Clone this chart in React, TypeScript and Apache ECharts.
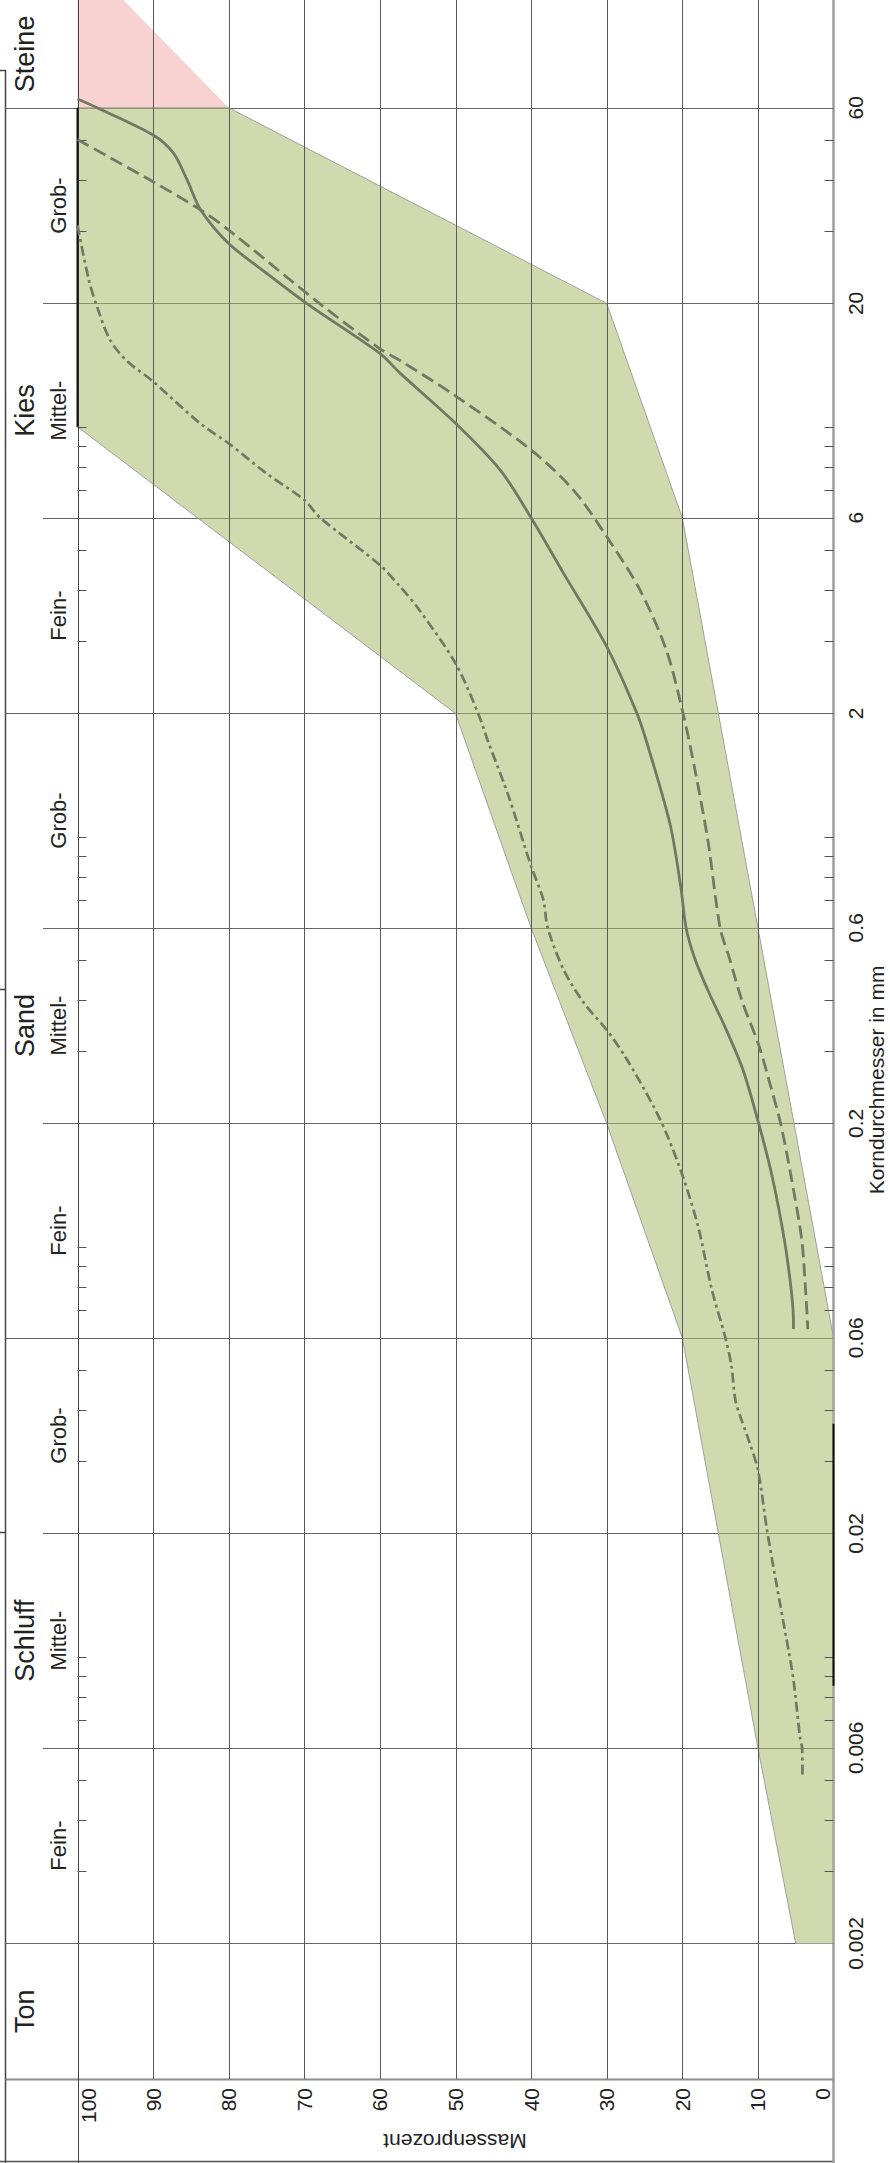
import { useEffect, useRef } from "react";
import * as echarts from "echarts";

const FONT = "'Liberation Sans', Arial, Helvetica, sans-serif";
const PAGE_W = 890;
const PAGE_H = 2163;

// ---- axis extent (Korndurchmesser in mm, logarithmic) ----
const D_MIN = 0.000934;
const D_MAX = 109.9;

// ---- ticks ----
const percentTicks = [0, 10, 20, 30, 40, 50, 60, 70, 80, 90, 100];
const diameterTickLabels = [0.002, 0.006, 0.02, 0.06, 0.2, 0.6, 2, 6, 20, 60];
const diameterMinorTicks = [
  0.003, 0.004, 0.005, 0.007, 0.008, 0.009, 0.01, 0.03, 0.04, 0.05, 0.07, 0.08, 0.09, 0.1,
  0.3, 0.4, 0.5, 0.7, 0.8, 0.9, 1, 3, 4, 5, 7, 8, 9, 10, 30, 40, 50,
];
const mainBoundaries = [0.002, 0.06, 2, 60];
const subBoundaries = [0.006, 0.02, 0.2, 0.6, 6, 20];

// ---- soil classes ----
const soilNames = ["Ton", "Schluff", "Sand", "Kies", "Steine"];
const soilFrom = [D_MIN, 0.002, 0.06, 2, 60];
const soilTo = [0.002, 0.06, 2, 60, D_MAX];

const fractionNames = ["Fein-", "Mittel-", "Grob-", "Fein-", "Mittel-", "Grob-", "Fein-", "Mittel-", "Grob-"];
const fractionFrom = [0.002, 0.006, 0.02, 0.06, 0.2, 0.6, 2, 6, 20];
const fractionTo = [0.006, 0.02, 0.06, 0.2, 0.6, 2, 6, 20, 60];

// ---- grading envelope ----
const upperD = [0.002, 0.006, 0.06, 0.2, 0.6, 2, 10, 60];
const upperP = [5, 10, 20, 30, 40, 50, 100, 100];
const lowerD = [0.002, 0.06, 0.6, 6, 20, 60];
const lowerP = [0, 0, 10, 20, 30, 80];
const stonesD = [60, 60, 143];
const stonesP = [100, 80, 100];
const edgeBarP1 = [100, 0];
const edgeBarD1 = [10, 0.0085];
const edgeBarP2 = [100, 0];
const edgeBarD2 = [60, 0.037];

// ---- grading curves ----
const solidD = [63, 60, 51.5, 46.5, 40, 33.8, 28, 23.7, 20, 15.1, 13.5, 10.2, 7.85, 6, 4.39, 2.91, 2, 1.63, 1.07, 0.755, 0.6, 0.508, 0.422, 0.342, 0.271, 0.2, 0.148, 0.104, 0.0787, 0.066, 0.063];
const solidP = [100, 97.4, 90, 87.3, 85.5, 83.7, 80, 75, 69.7, 60, 57.3, 50, 44.1, 40, 35.7, 30, 26, 24.4, 21.6, 20.2, 19.5, 18.4, 16.6, 14.3, 12, 9.9, 8.1, 6.5, 5.6, 5.3, 5.3];

const dashD = [50.2, 39.6, 33.8, 30.2, 20, 15.5, 14.5, 12, 8.78, 7.01, 5.4, 4.0, 2.85, 2.0, 1.48, 0.976, 0.6, 0.508, 0.393, 0.311, 0.246, 0.2, 0.148, 0.104, 0.0787, 0.066, 0.063];
const dashP = [100, 90, 83.7, 80, 68, 60, 57.3, 50.3, 40, 34.4, 30, 25.6, 22.1, 19.9, 18.4, 16.6, 15, 13.8, 12, 9.9, 8.3, 7, 5.6, 4.2, 3.7, 3.45, 3.4];

const dotDashD = [31, 22.8, 19.6, 16.3, 14.5, 12.9, 10.2, 9.11, 7.7, 6.63, 6, 4.6, 4.07, 3.64, 2.65, 2.0, 1.71, 1.26, 0.848, 0.704, 0.6, 0.474, 0.393, 0.338, 0.29, 0.22, 0.187, 0.148, 0.112, 0.0787, 0.06, 0.0512, 0.0425, 0.0387, 0.0339, 0.0286, 0.0204, 0.0149, 0.011, 0.0088, 0.0063, 0.006, 0.0051];
const dotDashP = [100, 98.5, 97.4, 95.7, 93.5, 90, 83.8, 80, 75, 70, 67.9, 60, 57.3, 55.1, 50, 47, 45.7, 43, 40, 38.4, 37.8, 35.7, 33, 30, 27.5, 23.8, 22, 19.9, 17.9, 16.1, 14.3, 13.5, 13, 12.35, 11.25, 10, 8.8, 7.5, 6.2, 5.3, 4.4, 4.15, 4.1];

// ---- styling constants ----
const FRAME_X = 5.5;
const SUB_X = 43;
const BIG_LABEL_X = 25;
const SMALL_LABEL_X = 58;
const CURVE_COLOR = "#747862";
const AXIS_GRAY = "#9c9c9c";
const TEXT = "#222";

export default function App() {
  const ref = useRef<HTMLDivElement>(null);

  useEffect(() => {
    if (!ref.current) return;
    const chart = echarts.init(ref.current, undefined, { renderer: "svg" });

    const hlineData = [
      ...mainBoundaries.map((d) => [0, d, 0]),
      ...subBoundaries.map((d) => [0, d, 1]),
      [0, D_MIN, 2],
    ];

    const option: any = {
      animation: false,
      backgroundColor: "#fff",
      grid: { left: 77.5, right: 56.5, top: 0, bottom: 84, containLabel: false, outerBoundsMode: "none" },
      xAxis: {
        type: "value",
        min: 0,
        max: 100,
        interval: 10,
        inverse: true,
        position: "bottom",
        axisLine: { show: false },
        axisTick: { show: false },
        splitLine: { show: false },
        axisLabel: {
          rotate: 90,
          margin: 9,
          fontSize: 21,
          fontFamily: FONT,
          color: TEXT,
          formatter: (v: number) => (v === 100 ? "{hi|100}" : v === 0 ? "{lo|0}" : String(v)),
          rich: {
            hi: { fontSize: 21, fontFamily: FONT, color: TEXT, padding: [22, 0, 0, 0] },
            lo: { fontSize: 21, fontFamily: FONT, color: TEXT, padding: [0, 0, 22, 0] },
          },
        },
      },
      yAxis: {
        type: "log",
        logBase: 10,
        min: D_MIN,
        max: D_MAX,
        position: "right",
        axisLine: { show: true, lineStyle: { color: AXIS_GRAY, width: 2.5 } },
        axisTick: { show: false },
        splitLine: { show: false },
        minorSplitLine: { show: false },
        axisLabel: {
          customValues: diameterTickLabels,
          rotate: 90,
          margin: 11,
          fontSize: 21,
          fontFamily: FONT,
          color: TEXT,
          formatter: (v: number) => String(parseFloat(Number(v).toPrecision(3))),
        },
      },
      graphic: [
        {
          type: "text",
          x: 876,
          y: 1080,
          rotation: Math.PI / 2,
          style: {
            text: "Korndurchmesser in mm",
            fontSize: 21,
            fontFamily: FONT,
            fill: TEXT,
            align: "center",
            verticalAlign: "middle",
          },
        },
        {
          type: "text",
          x: 455,
          y: 2141,
          rotation: Math.PI,
          style: {
            text: "Massenprozent",
            fontSize: 21,
            fontFamily: FONT,
            fill: TEXT,
            align: "center",
            verticalAlign: "middle",
          },
        },
        { type: "line", shape: { x1: FRAME_X, y1: 70, x2: FRAME_X, y2: PAGE_H }, style: { stroke: "#444", lineWidth: 1.5 } },
        { type: "line", shape: { x1: 0, y1: 70.5, x2: FRAME_X, y2: 70.5 }, style: { stroke: "#444", lineWidth: 1.5 } },
        { type: "line", shape: { x1: 0, y1: 989.5, x2: FRAME_X, y2: 989.5 }, style: { stroke: "#444", lineWidth: 1.5 } },
        { type: "line", shape: { x1: 0, y1: 1532.5, x2: FRAME_X, y2: 1532.5 }, style: { stroke: "#444", lineWidth: 1.5 } },
        { type: "line", shape: { x1: 0, y1: 2161.5, x2: 834, y2: 2161.5 }, style: { stroke: "#555", lineWidth: 1.5 } },
      ],
      series: [
        // horizontal class boundaries (drawn beneath the envelope)
        {
          type: "custom",
          coordinateSystem: "cartesian2d",
          silent: true,
          clip: false,
          z: 1,
          encode: { x: 0, y: 1 },
          data: hlineData,
          renderItem: (params: any, api: any) => {
            const d = api.value(1);
            const kind = api.value(2);
            const cs = params.coordSys;
            const y = Math.round(api.coord([0, d])[1]) + 0.5;
            const xl = kind === 1 ? SUB_X : FRAME_X;
            const xr = cs.x + cs.width;
            return {
              type: "line",
              shape: { x1: xl, y1: y, x2: xr, y2: y },
              style: { stroke: kind === 2 ? "#8c8c8c" : "#666", lineWidth: kind === 2 ? 2 : 1 },
            };
          },
        },
        // envelope and stones area
        {
          type: "custom",
          coordinateSystem: "cartesian2d",
          silent: true,
          clip: false,
          z: 2,
          encode: { x: 0, y: 1 },
          data: [[50, 1]],
          renderItem: (_params: any, api: any) => {
            const pts: number[][] = [];
            upperD.forEach((d, i) => pts.push(api.coord([upperP[i], d])));
            for (let i = lowerD.length - 1; i >= 0; i--) pts.push(api.coord([lowerP[i], lowerD[i]]));
            const red = stonesD.map((d, i) => api.coord([stonesP[i], d]));
            return {
              type: "group",
              children: [
                { type: "polygon", shape: { points: red }, style: { fill: "#f8d1d1" } },
                {
                  type: "polygon",
                  shape: { points: pts },
                  style: { fill: "rgba(172,187,110,0.55)", stroke: "#a0a0a0", lineWidth: 1 },
                },
              ],
            };
          },
        },
        // percent grid lines (on top of envelope)
        {
          type: "custom",
          coordinateSystem: "cartesian2d",
          silent: true,
          clip: false,
          z: 3,
          encode: { x: 0, y: 1 },
          data: percentTicks.map((p) => [p, D_MAX]),
          renderItem: (params: any, api: any) => {
            const cs = params.coordSys;
            const p = api.value(0);
            const x = api.coord([p, D_MAX])[0];
            const xs = Math.round(x) + 0.5;
            const top = cs.y;
            const bottom = cs.y + cs.height;
            const h = api.getHeight();
            if (p === 0) {
              return { type: "line", shape: { x1: x, y1: bottom, x2: x, y2: h }, style: { stroke: AXIS_GRAY, lineWidth: 2.5 } };
            }
            if (p === 100) {
              return { type: "line", shape: { x1: xs, y1: top, x2: xs, y2: h }, style: { stroke: "#444", lineWidth: 1 } };
            }
            return { type: "line", shape: { x1: xs, y1: top, x2: xs, y2: bottom }, style: { stroke: "#5a5a5a", lineWidth: 1 } };
          },
        },
        // minor ticks on the 100 % and 0 % sides
        {
          type: "custom",
          coordinateSystem: "cartesian2d",
          silent: true,
          clip: false,
          z: 3,
          encode: { x: 0, y: 1 },
          data: diameterMinorTicks.map((d) => [0, d]),
          renderItem: (_params: any, api: any) => {
            const d = api.value(1);
            const a = api.coord([100, d]);
            const b = api.coord([0, d]);
            const y = Math.round(a[1]) + 0.5;
            return {
              type: "group",
              children: [
                { type: "line", shape: { x1: a[0], y1: y, x2: a[0] + 9, y2: y }, style: { stroke: "#555", lineWidth: 1 } },
                { type: "line", shape: { x1: b[0] - 9, y1: y, x2: b[0], y2: y }, style: { stroke: "#555", lineWidth: 1 } },
              ],
            };
          },
        },
        // dark edges of the envelope along 100 % / 0 %
        {
          type: "custom",
          coordinateSystem: "cartesian2d",
          silent: true,
          clip: false,
          z: 3,
          encode: { x: [0, 2], y: [1, 3] },
          data: edgeBarP1.map((p, i) => [p, edgeBarD1[i], edgeBarP2[i], edgeBarD2[i]]),
          renderItem: (_params: any, api: any) => {
            const a = api.coord([api.value(0), api.value(1)]);
            const b = api.coord([api.value(2), api.value(3)]);
            return { type: "line", shape: { x1: a[0], y1: a[1], x2: b[0], y2: b[1] }, style: { stroke: "#111", lineWidth: 2 } };
          },
        },
        // grading curves
        {
          type: "line",
          name: "Kurve 1",
          silent: true,
          z: 5,
          showSymbol: false,
          smooth: 0.3,
          data: solidP.map((p, i) => [p, solidD[i]]),
          lineStyle: { color: CURVE_COLOR, width: 2.8, type: "solid" },
        },
        {
          type: "line",
          name: "Kurve 2",
          silent: true,
          z: 5,
          showSymbol: false,
          smooth: 0.3,
          data: dashP.map((p, i) => [p, dashD[i]]),
          lineStyle: { color: CURVE_COLOR, width: 2.8, type: [13, 6] },
        },
        {
          type: "line",
          name: "Kurve 3",
          silent: true,
          z: 5,
          showSymbol: false,
          smooth: 0.3,
          data: dotDashP.map((p, i) => [p, dotDashD[i]]),
          lineStyle: { color: CURVE_COLOR, width: 2.7, type: [10, 4, 3, 4] },
        },
        // soil class labels
        {
          type: "custom",
          coordinateSystem: "cartesian2d",
          silent: true,
          clip: false,
          z: 6,
          encode: { x: 0, y: 1 },
          data: soilNames.map((_n, i) => [100, Math.sqrt(soilFrom[i] * soilTo[i]), i]),
          renderItem: (_params: any, api: any) => {
            const y = api.coord([100, api.value(1)])[1];
            return {
              type: "text",
              x: BIG_LABEL_X,
              y,
              rotation: Math.PI / 2,
              style: {
                text: soilNames[api.value(2)],
                fontSize: 27,
                fontFamily: FONT,
                fill: TEXT,
                align: "center",
                verticalAlign: "middle",
              },
            };
          },
        },
        {
          type: "custom",
          coordinateSystem: "cartesian2d",
          silent: true,
          clip: false,
          z: 6,
          encode: { x: 0, y: 1 },
          data: fractionNames.map((_n, i) => [100, Math.sqrt(fractionFrom[i] * fractionTo[i]), i]),
          renderItem: (_params: any, api: any) => {
            const y = api.coord([100, api.value(1)])[1];
            return {
              type: "text",
              x: SMALL_LABEL_X,
              y,
              rotation: Math.PI / 2,
              style: {
                text: fractionNames[api.value(2)],
                fontSize: 22,
                fontFamily: FONT,
                fill: TEXT,
                align: "center",
                verticalAlign: "middle",
              },
            };
          },
        },
      ],
    };

    chart.setOption(option);
    return () => chart.dispose();
  }, []);

  return (
    <div
      ref={ref}
      style={{ position: "absolute", left: 0, top: 0, width: PAGE_W, height: PAGE_H, background: "#fff" }}
    />
  );
}
